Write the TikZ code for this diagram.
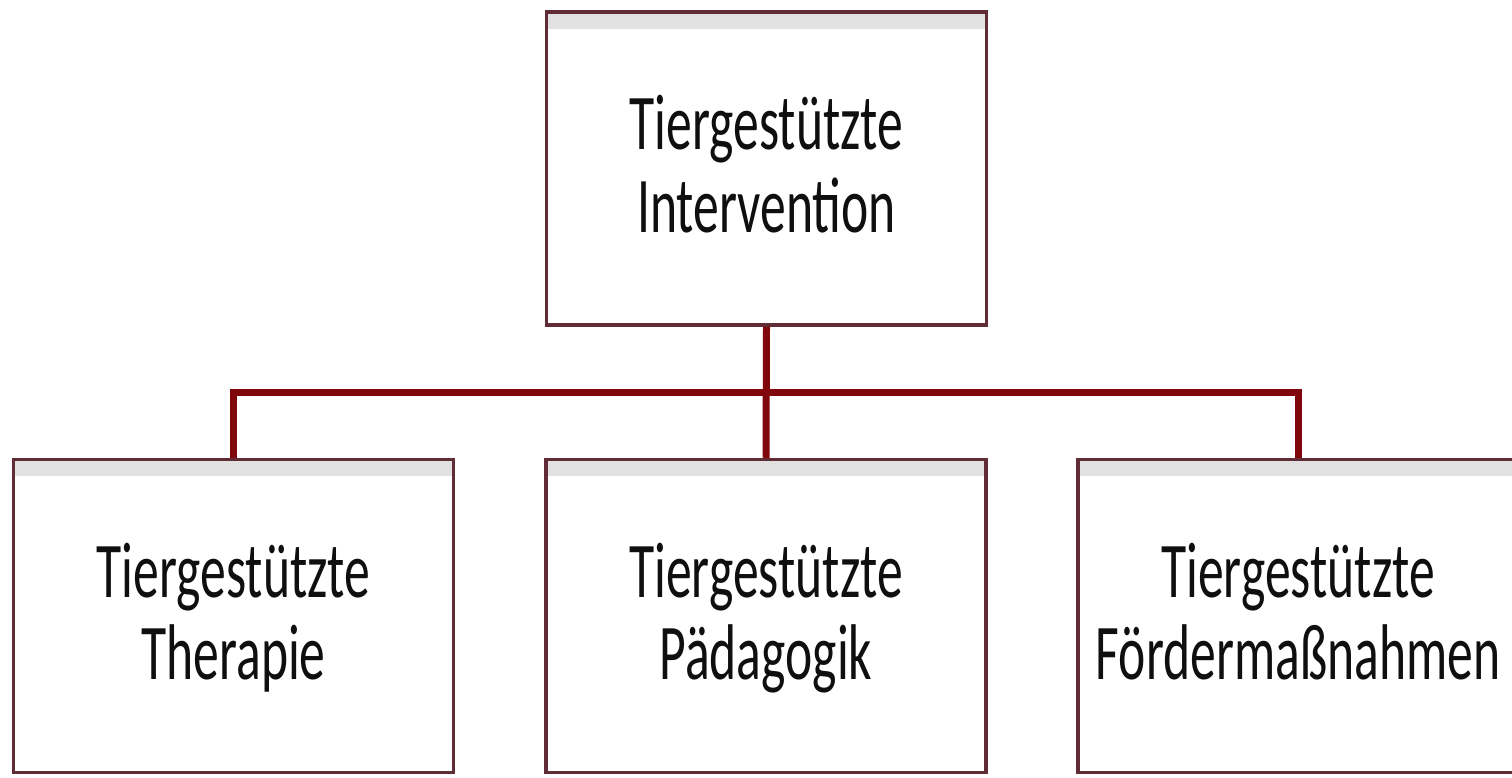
\documentclass[tikz,border=0pt]{standalone}
\usepackage{fontspec}
\setmainfont{Carlito}
\usepackage{graphicx}
\newcommand\boxtext[2]{\raisebox{0pt}[\dimexpr\height+12pt\relax][\depth]{\scalebox{1}[1.53]{\begin{tabular}{c}#1\\#2\end{tabular}}}}
\definecolor{boxedge}{RGB}{96,44,54}
\definecolor{linkred}{RGB}{128,8,12}
\definecolor{textdark}{RGB}{15,15,15}
\tikzset{
  box/.style={draw=boxedge, line width=3.5pt, fill=white, minimum width=440pt,
    minimum height=313pt, inner sep=0pt, align=center, text=textdark,
    font=\fontsize{51.6}{54}\selectfont,
    path picture={\shade[top color=black!12, bottom color=white]
      (path picture bounding box.north west) rectangle ([yshift=-16pt]path picture bounding box.north east);}},
  link/.style={draw=linkred, line width=7pt}
}
\begin{document}
\begin{tikzpicture}[x=1pt,y=-1pt]
\useasboundingbox[fill=white] (0,0) rectangle (1512,777);
\node[box] (top) at (766.5,168.5) {\boxtext{Tiergestützte}{Intervention}};
\node[box] (left) at (233.5,616) {\boxtext{Tiergestützte}{Therapie}};
\node[box] (mid) at (766,616) {\boxtext{Tiergestützte}{Pädagogik}};
\node[box] (right) at (1298,616) {\boxtext{Tiergestützte}{Fördermaßnahmen}};
\coordinate (j) at (766,392);
\draw[link] (top.south) -- (mid.north);
\draw[link] (left.north) |- (j) -| (right.north);
\end{tikzpicture}
\end{document}
